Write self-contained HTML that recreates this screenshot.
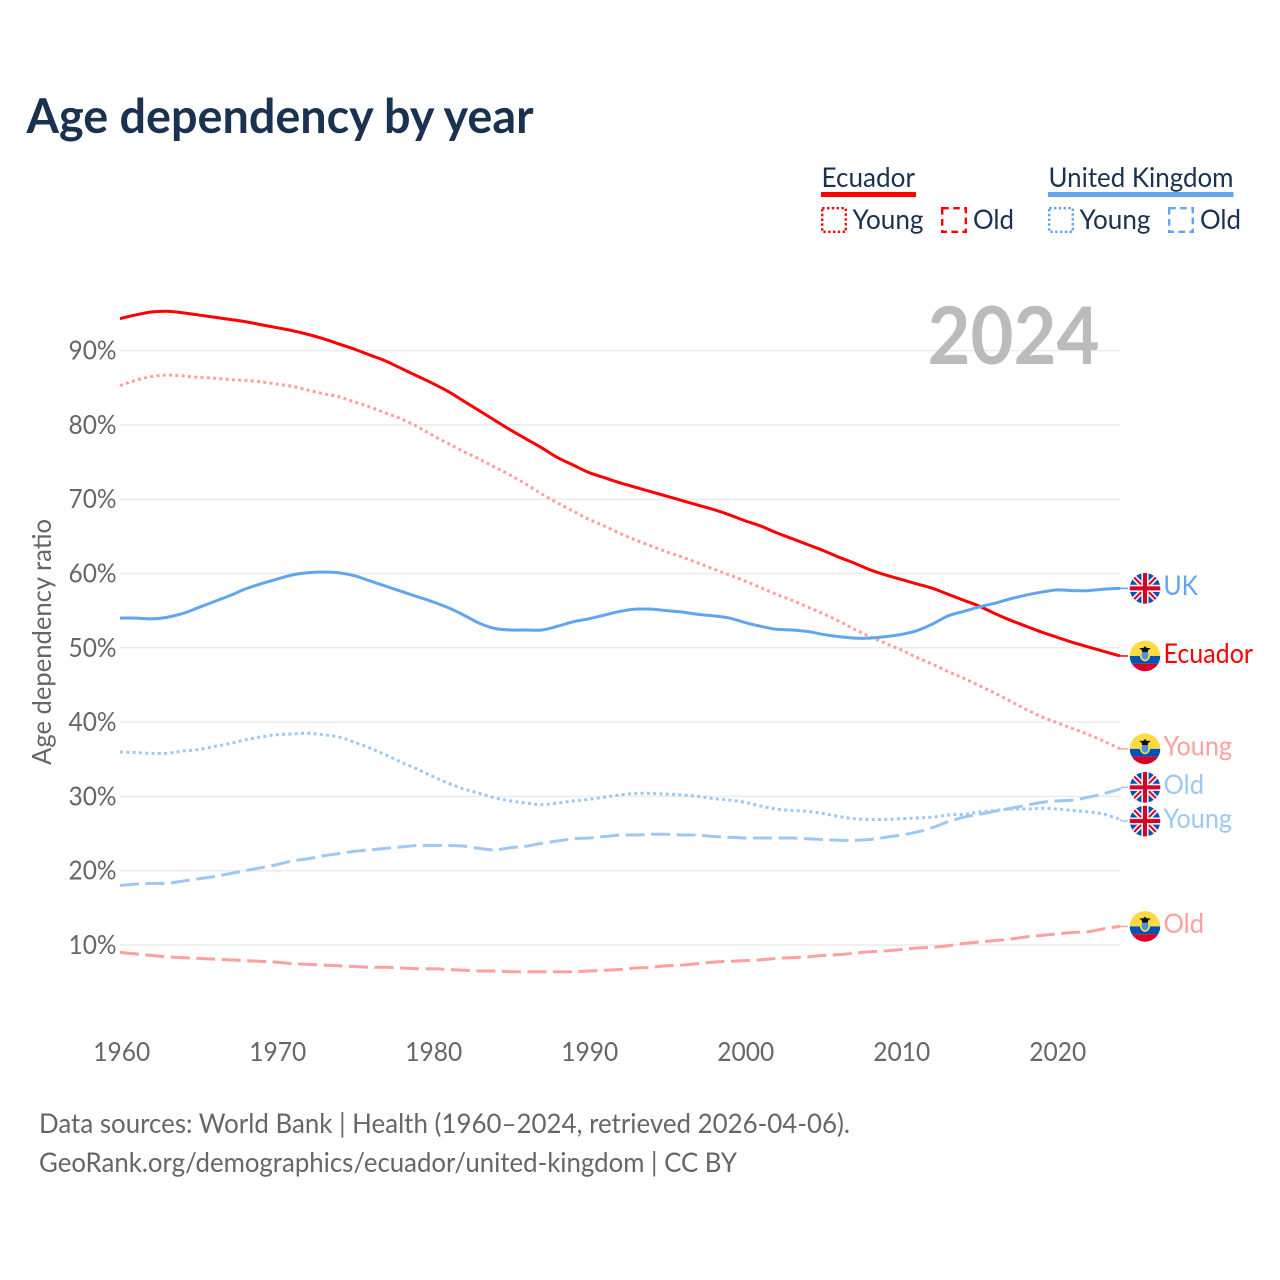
<!DOCTYPE html>
<html lang="en">
<head>
<meta charset="utf-8">
<title>Age dependency by year</title>
<style>
  html, body { margin: 0; padding: 0; background: #fff; }
  svg { display: block; }
  text { font-family: "Lato", "Carlito", "Liberation Sans", sans-serif; }
</style>
</head>
<body>
<svg id="chart" xmlns="http://www.w3.org/2000/svg" width="1280" height="1280" viewBox="0 0 1280 1280">
  <rect x="0" y="0" width="1280" height="1280" fill="#ffffff"/>
  <text x="26.5" y="133" font-size="48" font-weight="700" fill="#1a3150" textLength="507" lengthAdjust="spacingAndGlyphs">Age dependency by year</text>

  <g font-size="27" fill="#1a3150">
    <text x="821.5" y="187" textLength="93.5" lengthAdjust="spacingAndGlyphs">Ecuador</text>
    <rect x="821" y="192" width="95" height="5" fill="#ff0000"/>
    <rect x="822.2" y="208.2" width="23.6" height="23.6" fill="none" stroke="#ff0000" stroke-width="2.4" stroke-dasharray="2.4 2.4"/>
    <text x="852.5" y="229" textLength="71" lengthAdjust="spacingAndGlyphs">Young</text>
    <rect x="942.2" y="208.2" width="23.6" height="23.6" fill="none" stroke="#ff0000" stroke-width="2.4" stroke-dasharray="6.6 4.4"/>
    <text x="973" y="229" textLength="41" lengthAdjust="spacingAndGlyphs">Old</text>

    <text x="1048.5" y="187" textLength="185" lengthAdjust="spacingAndGlyphs">United Kingdom</text>
    <rect x="1048" y="192" width="185.5" height="5" fill="#60a5ee"/>
    <rect x="1049.2" y="208.2" width="23.6" height="23.6" fill="none" stroke="#60a5ee" stroke-width="2.4" stroke-dasharray="2.4 2.4"/>
    <text x="1079.5" y="229" textLength="71" lengthAdjust="spacingAndGlyphs">Young</text>
    <rect x="1169.2" y="208.2" width="23.6" height="23.6" fill="none" stroke="#60a5ee" stroke-width="2.4" stroke-dasharray="6.6 4.4"/>
    <text x="1200" y="229" textLength="41" lengthAdjust="spacingAndGlyphs">Old</text>
  </g>

  <g id="grid"></g>
  <text x="927.5" y="364" font-size="80" font-weight="700" fill="#bbbbbb" textLength="172" lengthAdjust="spacingAndGlyphs">2024</text>
  <g id="series"></g>
  <g id="yticks" font-size="26" fill="#666666"></g>
  <g id="xticks" font-size="26" fill="#666666"></g>
  <text transform="translate(51 642) rotate(-90)" text-anchor="middle" font-size="26" fill="#666666" textLength="246" lengthAdjust="spacingAndGlyphs">Age dependency ratio</text>
  <g id="labels" font-size="27"></g>

  <g font-size="27" fill="#666666">
    <text x="39" y="1133" textLength="811" lengthAdjust="spacingAndGlyphs">Data sources: World Bank | Health (1960–2024, retrieved 2026-04-06).</text>
    <text x="39" y="1172" textLength="698" lengthAdjust="spacingAndGlyphs">GeoRank.org/demographics/ecuador/united-kingdom | CC BY</text>
  </g>
</svg>

<script>
const firstYear = 1960;
const yTickValues = [10, 20, 30, 40, 50, 60, 70, 80, 90];
const xTickValues = [1960, 1970, 1980, 1990, 2000, 2010, 2020];

const ecuadorTotal = [94.3, 94.8, 95.2, 95.3, 95.1, 94.8, 94.5, 94.2, 93.9, 93.5, 93.1, 92.7, 92.2, 91.6, 90.9, 90.2, 89.4, 88.6, 87.6, 86.6, 85.6, 84.5, 83.2, 81.9, 80.6, 79.3, 78.1, 76.9, 75.6, 74.6, 73.6, 72.9, 72.2, 71.6, 71.0, 70.4, 69.8, 69.2, 68.6, 67.9, 67.1, 66.4, 65.5, 64.7, 63.9, 63.1, 62.2, 61.4, 60.5, 59.8, 59.2, 58.6, 58.0, 57.2, 56.4, 55.6, 54.6, 53.7, 52.9, 52.1, 51.4, 50.7, 50.1, 49.5, 48.9];
const ukTotal = [54.0, 54.0, 53.9, 54.1, 54.6, 55.4, 56.2, 57.0, 57.9, 58.6, 59.2, 59.8, 60.1, 60.2, 60.1, 59.7, 59.0, 58.3, 57.6, 56.9, 56.2, 55.4, 54.4, 53.3, 52.6, 52.4, 52.4, 52.4, 52.9, 53.5, 53.9, 54.4, 54.9, 55.2, 55.2, 55.0, 54.8, 54.5, 54.3, 54.0, 53.4, 52.9, 52.5, 52.4, 52.2, 51.8, 51.5, 51.3, 51.3, 51.5, 51.8, 52.3, 53.2, 54.3, 54.9, 55.5, 56.0, 56.6, 57.1, 57.5, 57.8, 57.7, 57.7, 57.9, 58.0];
const ecuadorYoung = [85.3, 86.0, 86.5, 86.7, 86.6, 86.4, 86.3, 86.1, 86.0, 85.8, 85.5, 85.2, 84.7, 84.2, 83.8, 83.1, 82.4, 81.6, 80.8, 79.8, 78.6, 77.5, 76.4, 75.4, 74.3, 73.2, 72.0, 70.7, 69.5, 68.4, 67.3, 66.4, 65.4, 64.5, 63.7, 62.9, 62.2, 61.4, 60.6, 59.8, 59.0, 58.1, 57.2, 56.4, 55.5, 54.6, 53.6, 52.5, 51.5, 50.6, 49.7, 48.7, 47.8, 46.8, 45.9, 44.9, 43.9, 42.8, 41.7, 40.7, 39.9, 39.1, 38.3, 37.4, 36.4];
const ecuadorOld = [9.0, 8.8, 8.6, 8.4, 8.3, 8.2, 8.1, 8.0, 7.9, 7.8, 7.7, 7.5, 7.4, 7.3, 7.2, 7.1, 7.0, 7.0, 6.9, 6.8, 6.8, 6.7, 6.6, 6.5, 6.5, 6.4, 6.4, 6.4, 6.4, 6.4, 6.5, 6.6, 6.7, 6.9, 7.0, 7.2, 7.3, 7.5, 7.7, 7.8, 7.9, 8.0, 8.2, 8.3, 8.4, 8.6, 8.7, 8.9, 9.1, 9.2, 9.4, 9.6, 9.7, 9.9, 10.2, 10.4, 10.6, 10.8, 11.1, 11.3, 11.5, 11.7, 11.8, 12.2, 12.5];
const ukYoung = [36.0, 35.9, 35.8, 35.8, 36.1, 36.3, 36.7, 37.1, 37.6, 38.0, 38.3, 38.4, 38.5, 38.3, 38.0, 37.3, 36.5, 35.6, 34.6, 33.7, 32.7, 31.8, 31.0, 30.4, 29.8, 29.4, 29.1, 28.9, 29.1, 29.4, 29.6, 29.9, 30.2, 30.4, 30.4, 30.3, 30.2, 30.0, 29.7, 29.5, 29.2, 28.7, 28.3, 28.1, 28.0, 27.7, 27.3, 27.0, 26.9, 26.9, 27.0, 27.1, 27.2, 27.5, 27.6, 27.9, 28.1, 28.3, 28.3, 28.4, 28.3, 28.1, 27.9, 27.6, 26.9];
const ukOld = [18.0, 18.2, 18.3, 18.3, 18.6, 18.9, 19.2, 19.6, 20.0, 20.4, 20.8, 21.3, 21.6, 22.0, 22.3, 22.6, 22.8, 23.0, 23.2, 23.4, 23.4, 23.4, 23.3, 23.0, 22.8, 23.1, 23.3, 23.7, 24.0, 24.3, 24.4, 24.6, 24.8, 24.8, 24.9, 24.9, 24.8, 24.8, 24.6, 24.5, 24.4, 24.4, 24.4, 24.4, 24.3, 24.2, 24.1, 24.1, 24.2, 24.5, 24.8, 25.2, 25.8, 26.6, 27.2, 27.6, 28.0, 28.4, 28.8, 29.2, 29.4, 29.5, 29.9, 30.4, 31.0];

const seriesDefs = [
  { name: 'ecuador-old',   label: 'Old',     flag: 'ecuador', values: ecuadorOld,   color: '#ff9f9f', dash: '19 6.5' },
  { name: 'ecuador-young', label: 'Young',   flag: 'ecuador', values: ecuadorYoung, color: '#ff9f9f', dash: '3 3.3' },
  { name: 'uk-old',        label: 'Old',     flag: 'uk',      values: ukOld,        color: '#9fc8f0', dash: '19 6.5' },
  { name: 'uk-young',      label: 'Young',   flag: 'uk',      values: ukYoung,      color: '#9fc8f0', dash: '3 3.3' },
  { name: 'ecuador-total', label: 'Ecuador', flag: 'ecuador', values: ecuadorTotal, color: '#ff0000', dash: null },
  { name: 'uk-total',      label: 'UK',      flag: 'uk',      values: ukTotal,      color: '#60a5ee', dash: null }
];

const NS = 'http://www.w3.org/2000/svg';
function xScale(year) { return 120 + (year - firstYear) * 15.625; }
function yScale(pct) { return 945 + (10 - pct) * 7.43; }
function xTickPos(year) { return 121.8 + (year - firstYear) * 15.6; }

function make(tag, attrs, parent) {
  const el = document.createElementNS(NS, tag);
  for (const k in attrs) el.setAttribute(k, attrs[k]);
  parent.appendChild(el);
  return el;
}

/* Smooth path through the series points (Catmull-Rom as cubic Beziers) */
function smoothPath(values) {
  const pts = values.map(function (v, i) { return [xScale(firstYear + i), yScale(v)]; });
  let d = 'M' + pts[0][0].toFixed(2) + ' ' + pts[0][1].toFixed(2);
  for (let i = 0; i < pts.length - 1; i++) {
    const p0 = pts[Math.max(i - 1, 0)];
    const p1 = pts[i];
    const p2 = pts[i + 1];
    const p3 = pts[Math.min(i + 2, pts.length - 1)];
    const c1x = p1[0] + (p2[0] - p0[0]) / 6;
    const c1y = p1[1] + (p2[1] - p0[1]) / 6;
    const c2x = p2[0] - (p3[0] - p1[0]) / 6;
    const c2y = p2[1] - (p3[1] - p1[1]) / 6;
    d += 'C' + c1x.toFixed(2) + ' ' + c1y.toFixed(2) + ' ' + c2x.toFixed(2) + ' ' + c2y.toFixed(2) + ' ' + p2[0].toFixed(2) + ' ' + p2[1].toFixed(2);
  }
  return d;
}

const gridG = document.getElementById('grid');
const yTickG = document.getElementById('yticks');
const xTickG = document.getElementById('xticks');
const seriesG = document.getElementById('series');
const labelsG = document.getElementById('labels');

yTickValues.forEach(function (v) {
  const line = make('line', { x1: 120, x2: 1120, y1: yScale(v), y2: yScale(v), stroke: '#ebebeb', 'stroke-width': 1.5 }, gridG);
  
  
  const t = make('text', { x: 116.5, y: yScale(v) + 9, 'text-anchor': 'end', textLength: 48, lengthAdjust: 'spacingAndGlyphs' }, yTickG);
  t.textContent = v + '%';
  
  
});

xTickValues.forEach(function (yr) {
  const t = make('text', { x: xTickPos(yr), y: 1061, 'text-anchor': 'middle', textLength: 57, lengthAdjust: 'spacingAndGlyphs' }, xTickG);
  t.textContent = yr;
  
  
});

seriesDefs.forEach(function (s) {
  const attrs = { d: smoothPath(s.values), fill: 'none', stroke: s.color, 'stroke-width': 3, 'stroke-linejoin': 'round' };
  if (s.dash) attrs['stroke-dasharray'] = s.dash;
  const p = make('path', attrs, seriesG);
  
  
});

/* end-of-line labels: stack them so neighbouring flags never overlap */
const MIN_GAP = 33.7;
const endItems = seriesDefs.map(function (s) {
  const raw = yScale(s.values[s.values.length - 1]);
  return { s: s, raw: raw, y: raw };
}).sort(function (a, b) { return a.raw - b.raw; });
for (let i = 1; i < endItems.length; i++) {
  const gap = endItems[i].y - endItems[i - 1].y;
  if (gap < MIN_GAP) {
    const shift = (MIN_GAP - gap) / 2;
    endItems[i - 1].y -= shift;
    endItems[i].y += shift;
  }
}

function drawFlag(kind, cx, cy, parent, idx) {
  const clipId = 'flag-clip-' + idx;
  const clip = make('clipPath', { id: clipId }, parent);
  make('circle', { cx: cx, cy: cy, r: 15.3 }, clip);
  const g = make('g', { 'clip-path': 'url(#' + clipId + ')' }, parent);
  
  
  const R = 16;
  if (kind === 'uk') {
    make('rect', { x: cx - R, y: cy - R, width: 2 * R, height: 2 * R, fill: '#0052b4' }, g);
    make('path', { d: 'M' + (cx - R) + ' ' + (cy - R) + 'L' + (cx + R) + ' ' + (cy + R) + 'M' + (cx + R) + ' ' + (cy - R) + 'L' + (cx - R) + ' ' + (cy + R), stroke: '#f0f0f0', 'stroke-width': 5.5 }, g);
    make('path', { d: 'M' + (cx - R) + ' ' + (cy - R) + 'L' + (cx - 2) + ' ' + (cy - 2) + 'M' + (cx + 2) + ' ' + (cy - 2) + 'L' + (cx + R) + ' ' + (cy - R) + 'M' + (cx - R) + ' ' + (cy + R) + 'L' + (cx - 2) + ' ' + (cy + 2) + 'M' + (cx + 2) + ' ' + (cy + 2) + 'L' + (cx + R) + ' ' + (cy + R), stroke: '#d80027', 'stroke-width': 2 }, g);
    make('rect', { x: cx - R, y: cy - 3.6, width: 2 * R, height: 7.2, fill: '#f0f0f0' }, g);
    make('rect', { x: cx - 3.6, y: cy - R, width: 7.2, height: 2 * R, fill: '#f0f0f0' }, g);
    make('rect', { x: cx - R, y: cy - 2, width: 2 * R, height: 4, fill: '#d80027' }, g);
    make('rect', { x: cx - 2, y: cy - R, width: 4, height: 2 * R, fill: '#d80027' }, g);
  } else {
    make('rect', { x: cx - R, y: cy - R, width: 2 * R, height: R, fill: '#ffda44' }, g);
    make('rect', { x: cx - R, y: cy, width: 2 * R, height: 7.8, fill: '#0052b4' }, g);
    make('rect', { x: cx - R, y: cy + 7.8, width: 2 * R, height: R, fill: '#d80027' }, g);
    make('ellipse', { cx: cx, cy: cy - 1, rx: 5.2, ry: 6.4, fill: '#ffda44' }, g);
    make('ellipse', { cx: cx, cy: cy - 0.8, rx: 3.4, ry: 4.6, fill: '#4b92e6' }, g);
    make('path', { d: 'M' + (cx - 5.8) + ' ' + (cy - 8) + 'L' + (cx - 1.8) + ' ' + (cy - 8) + 'L' + cx + ' ' + (cy - 9.8) + 'L' + (cx + 1.8) + ' ' + (cy - 8) + 'L' + (cx + 5.8) + ' ' + (cy - 8) + 'L' + (cx + 3) + ' ' + (cy - 5.6) + 'L' + (cx + 3) + ' ' + (cy - 3.8) + 'L' + (cx - 3) + ' ' + (cy - 3.8) + 'L' + (cx - 3) + ' ' + (cy - 5.6) + 'Z', fill: '#111111' }, g);
  }
}

endItems.forEach(function (item, i) {
  const s = item.s;
  const conn = make('path', { d: 'M1120 ' + item.raw.toFixed(2) + 'L1122 ' + item.y.toFixed(2) + 'L1128 ' + item.y.toFixed(2), fill: 'none', stroke: s.color, 'stroke-width': 1.5 }, labelsG);
  
  
  drawFlag(s.flag, 1145, item.y, labelsG, i);
  const t = make('text', { x: 1163.5, y: item.y + 6.8, fill: s.color }, labelsG);
  t.textContent = s.label;
  
  
  const widths = { UK: 34.5, Ecuador: 89.5, Young: 68.5, Old: 40.5 };
  t.setAttribute('textLength', widths[s.label]);
  t.setAttribute('lengthAdjust', 'spacingAndGlyphs');
});
</script>
</body>
</html>
